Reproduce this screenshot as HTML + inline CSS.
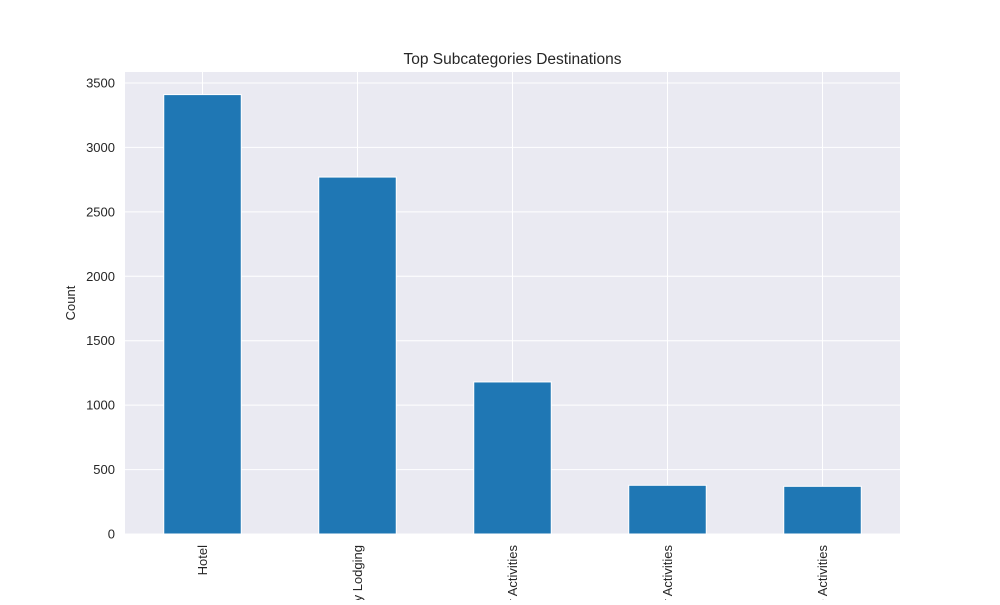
<!DOCTYPE html>
<html><head><meta charset="utf-8"><style>
body{margin:0;background:#fff;width:1000px;height:600px;overflow:hidden;font-family:"Liberation Sans",sans-serif}
</style></head><body>
<svg id="chart" width="1000" height="600"></svg>
<script>
const categories=["Hotel","Specialty Lodging","Outdoor Activities","Water Activities","Nature Activities"];
const counts=[3410,2770,1180,378,370];
const yTicks=[0,500,1000,1500,2000,2500,3000,3500];
const NS="http://www.w3.org/2000/svg";
const svg=document.getElementById('chart');
const L=125,R=900,T=72,B=534;
const y=v=>B-v*(451/3500);
const step=(R-L)/categories.length;
const x=i=>L+step*(i+0.5);
function mk(t,a,p){const e=document.createElementNS(NS,t);for(const k in a)e.setAttribute(k,a[k]);(p||svg).appendChild(e);return e;}
const bg=mk('rect',{x:L,y:T,width:R-L,height:B-T,fill:'#eaeaf2'});


yTicks.forEach(v=>{
 const g=mk('line',{x1:L,x2:R,y1:y(v),y2:y(v),stroke:'#fff','stroke-width':1});
 
 
 const t=mk('text',{x:L-10,y:y(v)+4.5,'text-anchor':'end','font-size':13,fill:'#262626'});
 t.textContent=v;
 
 
});
categories.forEach((c,i)=>{
 const g=mk('line',{x1:x(i),x2:x(i),y1:T,y2:B,stroke:'#fff','stroke-width':1});
 
 
});
categories.forEach((c,i)=>{
 const w=step*0.5;
 const b=mk('rect',{x:x(i)-w/2,y:y(counts[i]),width:w,height:B-y(counts[i]),fill:'#1f77b4',stroke:'#fff','stroke-width':1});
 
 
 const t=mk('text',{x:0,y:0,'text-anchor':'end','font-size':13,fill:'#262626',transform:`translate(${x(i)+4.5},${B+11}) rotate(-90)`});
 t.textContent=c;
 
 
});
const ti=mk('text',{x:(L+R)/2,y:64,'text-anchor':'middle','font-size':15.5,fill:'#262626'});
ti.textContent='Top Subcategories Destinations';


const yl=mk('text',{x:0,y:0,'text-anchor':'middle','font-size':13,fill:'#262626',transform:`translate(75,${(T+B)/2}) rotate(-90)`});
yl.textContent='Count';


</script>
</body></html>
